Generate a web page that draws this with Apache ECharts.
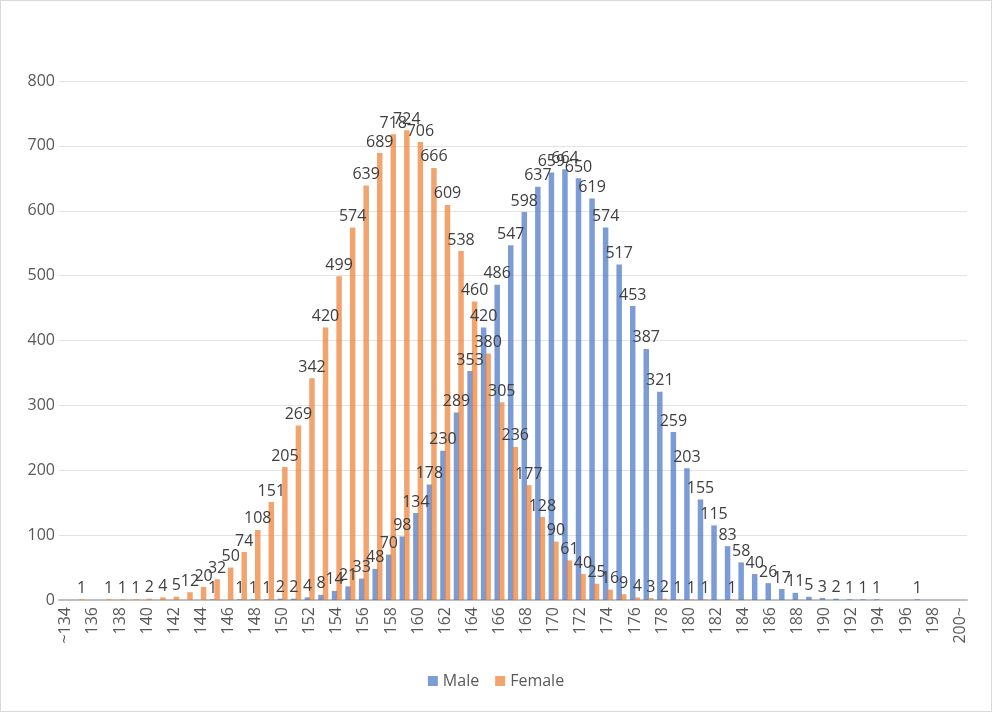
<!DOCTYPE html>
<html>
<head>
<meta charset="utf-8">
<script src="https://cdn.jsdelivr.net/npm/echarts@6/dist/echarts.min.js"></script>
<style>
html,body{margin:0;padding:0;background:#fff;}
#c{width:992px;height:712px;box-sizing:border-box;border:1px solid #d9d9d9;}
</style>
</head>
<body>
<div id="c"></div>
<script>
// Categories: ~134, 135 ... 199, 200~
const categories = [];
for (let h = 134; h <= 200; h++) categories.push(h === 134 ? '~134' : (h === 200 ? '200~' : String(h)));

// Male counts, 134..200 (null = no value)
const male = [
  null, null, null, null, null, null, null, null, null, null, // 134-143
  null, 1, null, 1, 1, 1, 2, 2, 4, 8,                          // 144-153
  14, 21, 33, 48, 70, 98, 134, 178, 230, 289,                 // 154-163
  353, 420, 486, 547, 598, 637, 659, 664, 650, 619,           // 164-173
  574, 517, 453, 387, 321, 259, 203, 155, 115, 83,            // 174-183
  58, 40, 26, 17, 11, 5, 3, 2, 1, 1,                          // 184-193
  1, null, null, 1, null, null, null                          // 194-200
];

// Female counts, 134..200
const female = [
  null, 1, null, 1, 1, 1, 2, 4, 5, 12,                        // 134-143
  20, 32, 50, 74, 108, 151, 205, 269, 342, 420,               // 144-153
  499, 574, 639, 689, 718, 724, 706, 666, 609, 538,           // 154-163
  460, 380, 305, 236, 177, 128, 90, 61, 40, 25,               // 164-173
  16, 9, 4, 3, 2, 1, 1, 1, null, 1,                           // 174-183
  null, null, null, null, null, null, null, null, null, null, // 184-193
  null, null, null, null, null, null, null                    // 194-200
];

const yTicks = [0, 100, 200, 300, 400, 500, 600, 700, 800];

const FONT = "'Open Sans', 'Liberation Sans', sans-serif";
const chart = echarts.init(document.getElementById('c'), null, {renderer: 'canvas'});
const labelCfg = {
  show: true, position: 'top', distance: 3,
  color: '#404040', fontSize: 16, fontFamily: FONT
};
chart.setOption({
  animation: false,
  backgroundColor: '#ffffff',
  textStyle: {fontFamily: FONT},
  grid: {left: 58, right: 24, top: 80, bottom: 111, containLabel: false},
  legend: {
    bottom: 17, left: 'center',
    itemWidth: 10, itemHeight: 10, itemGap: 16,
    icon: 'rect',
    textStyle: {color: '#595959', fontSize: 16, fontFamily: FONT},
    data: [
      {name: 'Male', itemStyle: {color: '#7C9CD6'}},
      {name: 'Female', itemStyle: {color: '#F2A46F'}}
    ]
  },
  xAxis: {
    type: 'category',
    data: categories,
    axisLine: {lineStyle: {color: '#bfbfbf', width: 2}},
    axisTick: {show: false},
    axisLabel: {
      interval: 1, rotate: 90, margin: 7,
      color: '#595959', fontSize: 16, fontFamily: FONT
    }
  },
  yAxis: {
    type: 'value',
    min: yTicks[0], max: yTicks[yTicks.length - 1], interval: 100,
    axisLine: {show: false},
    axisTick: {show: false},
    axisLabel: {color: '#595959', fontSize: 16, fontFamily: FONT, margin: 4},
    splitLine: {lineStyle: {color: '#e3e3e3', width: 1}}
  },
  series: [
    {
      name: 'Male', type: 'bar', data: male,
      barWidth: 5.5, barGap: '-18%',
      itemStyle: {color: 'rgba(68,114,196,0.7)'},
      label: labelCfg
    },
    {
      name: 'Female', type: 'bar', data: female,
      barWidth: 5.5, barGap: '-18%',
      itemStyle: {color: 'rgba(237,125,49,0.7)'},
      label: labelCfg
    }
  ]
});
</script>
</body>
</html>
